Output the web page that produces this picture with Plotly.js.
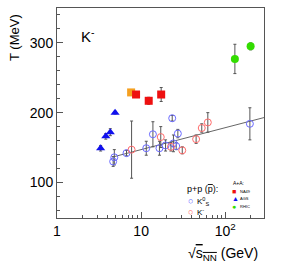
<!DOCTYPE html>
<html><head><meta charset="utf-8">
<script src="https://cdn.plot.ly/plotly-3.0.1.min.js"></script>
<style>html,body{margin:0;padding:0;background:#fff}#c{width:286px;height:273px}</style>
</head><body><div id="c"></div>
<script>
// A+A data
const na49X = [8.7, 12.3, 17.3];
const na49T = [226, 217, 226];
const na49E = [4, 5, 10];
const orangeX = [7.6];
const orangeT = [229];
const orangeE = [4];
const agsX = [3.3, 3.8, 4.3, 4.9];
const agsT = [149, 166, 172, 200];
const agsE = [4, 4, 5, 2];
const rhicX = [130, 200];
const rhicT = [277, 295];
const rhicE = [21, 5];
// p+p data
const k0sX = [4.65, 4.8, 6.7, 11.5, 13.8, 16.5, 19.5, 23.4, 24.2, 26.1, 27.3, 196];
const k0sT = [130, 136, 142, 149, 169, 149, 153, 192, 156, 152, 170, 184];
const k0sE = [7, 11, 4, 10, 18, 10, 8, 4, 12, 5, 6, 23];
const kmX = [7.7, 17.1, 22.6, 30.8, 45, 52.5, 62];
const kmT = [147, 165, 151, 146, 162, 178, 186];
const kmE = [41, 15, 6, 5, 6, 6, 14];
// fit line
const fitX = [4.8, 290];
const fitT = [137, 193];

const ebar = (arr) => ({type:'data', array:arr, visible:true, color:'#555', thickness:1, width:1.5});
const traces = [
  {x:fitX, y:fitT, mode:'lines', line:{color:'#666', width:1}, hoverinfo:'skip'},
  {x:k0sX, y:k0sT, mode:'markers', error_y:ebar(k0sE), marker:{symbol:'circle-open', size:7, color:'#6b6bff', line:{width:1}}},
  {x:kmX, y:kmT, mode:'markers', error_y:ebar(kmE), marker:{symbol:'circle-open', size:7, color:'#ff6b6b', line:{width:1}}},
  {x:orangeX, y:orangeT, mode:'markers', error_y:ebar(orangeE), marker:{symbol:'square', size:8, color:'#f5a020'}},
  {x:na49X, y:na49T, mode:'markers', error_y:ebar(na49E), marker:{symbol:'square', size:8, color:'#ee1010'}},
  {x:agsX, y:agsT, mode:'markers', error_y:ebar(agsE), marker:{symbol:'triangle-up', size:8, color:'#1010ee'}},
  {x:rhicX, y:rhicT, mode:'markers', error_y:ebar(rhicE), marker:{symbol:'circle', size:8, color:'#33dd00'}}
];
const F = 'Liberation Sans, Arial, sans-serif';
const px = v => (v-57)/207, py = v => (218-v)/210;
const ann = (x,y,text,size,color,extra) => Object.assign({xref:'paper', yref:'paper', x:px(x), y:py(y), text:text, showarrow:false, font:{family:F, size:size, color:color||'#000'}, xanchor:'left', yanchor:'middle'}, extra||{});
const layout = {
  width:286, height:273, margin:{l:57, r:22, t:8, b:55},
  paper_bgcolor:'#fff', plot_bgcolor:'#fff', showlegend:false,
  font:{family:F, size:14, color:'#000'},
  xaxis:{type:'log', range:[0, 2.46], showgrid:false, zeroline:false,
    showline:true, linecolor:'#555', linewidth:1, mirror:true,
    ticks:'inside', ticklen:6, tickcolor:'#555',
    tickvals:[1,10,100], ticktext:['1','10','10<sup>2</sup>'],
    minor:{ticks:'inside', ticklen:3, tickcolor:'#555', tickvals:[2,3,4,5,6,7,8,9,20,30,40,50,60,70,80,90,200], showgrid:false},
    tickfont:{size:14}},
  yaxis:{range:[49, 350], showgrid:false, zeroline:false,
    showline:true, linecolor:'#555', linewidth:1, mirror:true,
    ticks:'inside', ticklen:6, tickcolor:'#555',
    tickvals:[100,200,300], ticktext:['100','200','300'],
    minor:{ticks:'inside', ticklen:3, tickcolor:'#555', dtick:20, showgrid:false},
    tickfont:{size:14}},
  annotations:[
    ann(79, 35, 'K<sup>-</sup>', 15),
    ann(14, 38, 'T (MeV)', 13, '#000', {textangle:-90, xanchor:'center'}),
    ann(223, 254, '√<span style="text-decoration:overline">s<sub>NN</sub></span> (GeV)', 14, '#000', {xanchor:'center'}),
    ann(185, 189, 'p+p (<span style="text-decoration:overline">p</span>):', 9),
    ann(186, 201, '○', 9, '#5a5aff'),
    ann(195, 201, 'K<sup>0</sup><sub>S</sub>', 8),
    ann(186, 212, '○', 9, '#ff5a5a'),
    ann(195, 212, 'K<sup>-</sup>', 8),
    ann(231, 183, 'A+A:', 5),
    ann(230, 191, '■', 7, '#ee1010'),
    ann(238, 191, 'NA49', 4),
    ann(230, 198.5, '▲', 7, '#1010ee'),
    ann(238, 198.5, 'AGS', 4),
    ann(230, 206, '●', 7, '#33dd00'),
    ann(238, 206, 'RHIC', 4)
  ]
};
Plotly.newPlot('c', traces, layout, {staticPlot:true, displayModeBar:false});
</script></body></html>
